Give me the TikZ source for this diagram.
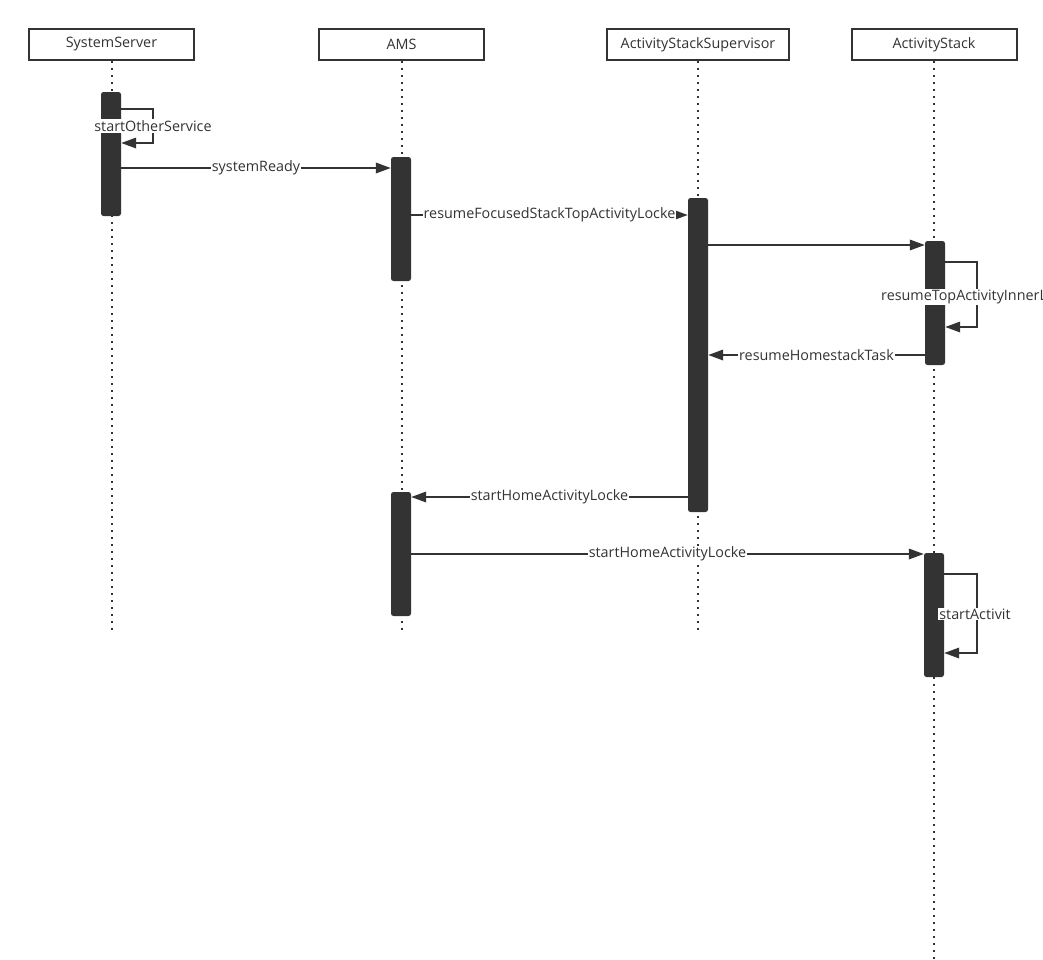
\documentclass[tikz,border=0pt]{standalone}
\usepackage{fontspec}
\setmainfont{Open Sans}
\usetikzlibrary{arrows.meta}
\definecolor{ink}{HTML}{333333}
\tikzset{
  head/.style={draw=ink, line width=2bp, fill=white, minimum width=165bp, minimum height=31bp, inner sep=0pt, font=\fontsize{14.4}{16}\selectfont, text=ink},
  life/.style={draw=ink, line width=2bp, dash pattern=on 2bp off 5bp},
  bar/.style={fill=ink, rounded corners=2.5bp, minimum width=20bp, inner sep=0pt},
  msg/.style={draw=ink, line width=1.8bp, -{Triangle[length=15bp,width=10.5bp]}},
  lbl/.style={fill=white, inner sep=1bp, font=\fontsize{14.4}{16}\selectfont, text=ink},
}
\begin{document}
\begin{tikzpicture}[x=1bp, y=-1bp]
\useasboundingbox (0,0) rectangle (1043,960);
\node[head] (ss) at (111.5,44.5) {SystemServer};
\node[head] (ams) at (401.5,44.5) {AMS};
\node[head, minimum width=182bp] (ass) at (698,44.5) {ActivityStackSupervisor};
\node[head] (as) at (934,44.5) {ActivityStack};
\draw[life] (ss.south) -- (ss.south |- 0,631);
\draw[life] (ams.south) -- (ams.south |- 0,631);
\draw[life] (ass.south) -- (ass.south |- 0,631);
\draw[life] (as.south) -- (as.south |- 0,960);
\node[bar, minimum height=124bp] (ss1) at (111,154) {};
\node[bar, minimum height=124bp] (ams1) at (401,219) {};
\node[bar, minimum height=314bp] (ass1) at (698,355) {};
\node[bar, minimum height=124bp] (as1) at (935,303) {};
\node[bar, minimum height=124bp] (ams2) at (401,554) {};
\node[bar, minimum height=124bp] (as2) at (934,615) {};
\draw[msg] (ss1.east |- 0,109) -- (153,109) -- (153,143) -- (ss1.east |- 0,143);
\node[lbl] (l1) at (153,126) {startOtherService};
\draw[msg] (ss1.east |- 0,168) -- node[lbl] (l2) {systemReady} (ams1.west |- 0,168);
\draw[msg] (ams1.east |- 0,215) -- node[lbl] (l3) {resumeFocusedStackTopActivityLocke} (ass1.west |- 0,215);
\draw[msg] (ass1.east |- 0,245) -- (as1.west |- 0,245);
\draw[msg] (as1.east |- 0,262) -- (977,262) -- (977,327) -- (as1.east |- 0,327);
\node[lbl, anchor=west] (l4) at (880,297) {resumeTopActivityInnerL};
\draw[msg] (as1.west |- 0,355) -- node[lbl] (l5) {resumeHomestackTask} (ass1.east |- 0,355);
\draw[msg] (ass1.west |- 0,497) -- node[lbl] (l6) {startHomeActivityLocke} (ams2.east |- 0,497);
\draw[msg] (ams2.east |- 0,554) -- node[lbl] (l7) {startHomeActivityLocke} (as2.west |- 0,554);
\draw[msg] (as2.east |- 0,574) -- (977,574) -- (977,653) -- (as2.east |- 0,653);
\node[lbl] (l8) at (975,614) {startActivit};
\end{tikzpicture}
\end{document}
